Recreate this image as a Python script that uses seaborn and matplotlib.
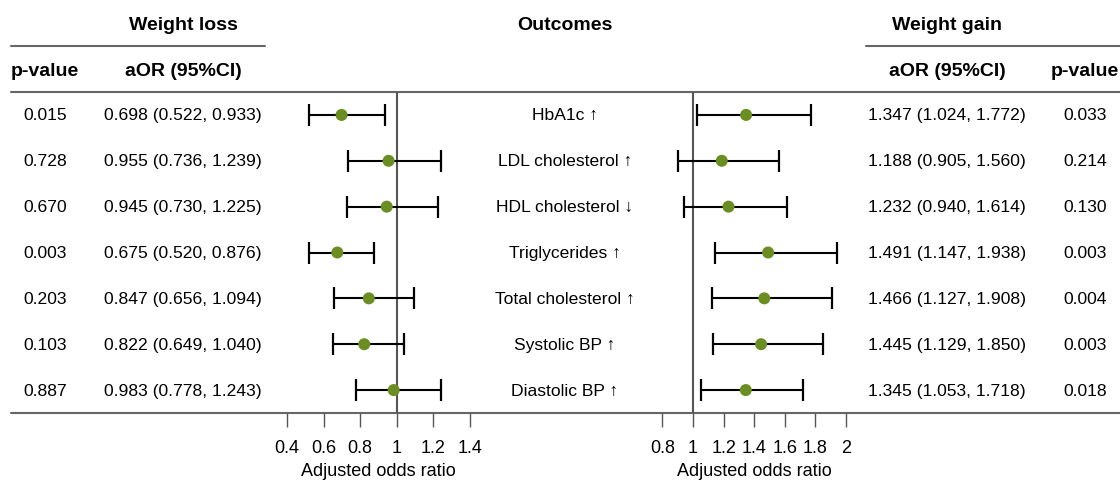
import matplotlib
matplotlib.use("Agg")
import matplotlib.pyplot as plt
import matplotlib.transforms as mtrans
import seaborn as sns
import pandas as pd

sns.set_theme(style="white")
plt.rcParams['font.family'] = ['Liberation Sans', 'DejaVu Sans']
plt.rcParams['text.color'] = 'black'
plt.rcParams['axes.labelcolor'] = 'black'

# ---- data ----
outcomes = ["HbA1c \u2191", "LDL cholesterol \u2191", "HDL cholesterol \u2193",
            "Triglycerides \u2191", "Total cholesterol \u2191", "Systolic BP \u2191",
            "Diastolic BP \u2191"]
loss_or = [0.698, 0.955, 0.945, 0.675, 0.847, 0.822, 0.983]
loss_lo = [0.522, 0.736, 0.730, 0.520, 0.656, 0.649, 0.778]
loss_hi = [0.933, 1.239, 1.225, 0.876, 1.094, 1.040, 1.243]
loss_p = ["0.015", "0.728", "0.670", "0.003", "0.203", "0.103", "0.887"]
gain_or = [1.347, 1.188, 1.232, 1.491, 1.466, 1.445, 1.345]
gain_lo = [1.024, 0.905, 0.940, 1.147, 1.127, 1.129, 1.053]
gain_hi = [1.772, 1.560, 1.614, 1.938, 1.908, 1.850, 1.718]
gain_p = ["0.033", "0.214", "0.130", "0.003", "0.004", "0.003", "0.018"]
loss_ticks = [0.4, 0.6, 0.8, 1, 1.2, 1.4]
gain_ticks = [0.8, 1, 1.2, 1.4, 1.6, 1.8, 2]

W, H = 1120, 481
fig = plt.figure(figsize=(W / 100, H / 100), dpi=100)
bg = fig.add_axes([0, 0, 1, 1])
bg.set_xlim(0, W)
bg.set_ylim(H, 0)
bg.axis("off")

RULE = "#666666"
PT = "#6B8E23"
top_y, bot_y = 93, 414


def px_axes(x0, x1):
    return fig.add_axes([x0 / W, (H - bot_y) / H, (x1 - x0) / W, (bot_y - top_y) / H])


def forest(ax, orv, lo, hi, xlim, ticks):
    df = pd.DataFrame({"or": orv, "lo": lo, "hi": hi, "row": range(len(orv))})
    ax.errorbar(df["or"], df["row"], xerr=[df["or"] - df["lo"], df["hi"] - df["or"]],
                fmt="none", ecolor="black", elinewidth=1.5, capsize=8, capthick=1.6,
                zorder=2)
    sns.scatterplot(data=df, x="or", y="row", ax=ax, color=PT, s=75,
                    edgecolor="none", zorder=3, legend=False)
    ax.axvline(1, color="#555555", lw=1.5, zorder=1)
    ax.set_xlim(*xlim)
    ax.set_ylim(len(orv) - 0.5, -0.5)
    ax.set_facecolor("none")
    for s in ax.spines.values():
        s.set_visible(False)
    ax.set_yticks([])
    ax.set_xticks(ticks)
    ax.set_xticklabels([f"{t:g}" for t in ticks])
    ax.tick_params(axis="x", direction="out", length=10, width=1, color="#555555",
                   labelsize=13, pad=9, bottom=True, labelcolor="black")
    ax.set_xlabel("Adjusted odds ratio", fontsize=13, labelpad=4, color="black")
    ax.set_ylabel("")


axL = px_axes(287, 470)
forest(axL, loss_or, loss_lo, loss_hi, (0.4, 1.4), loss_ticks)
axR = px_axes(662.4, 846)
forest(axR, gain_or, gain_lo, gain_hi, (0.8, 2.0), gain_ticks)

# rules
bg.plot([11, 265], [47, 47], color=RULE, lw=1.5)
bg.plot([866, W], [47, 47], color=RULE, lw=1.5)
bg.plot([11, W], [top_y, top_y], color=RULE, lw=1.5)
bg.plot([11, W], [bot_y, bot_y], color=RULE, lw=1.5)

# headers
hk = dict(fontsize=14, fontweight="bold", ha="center", va="center", color="black")
bg.text(183, 25, "Weight loss", **hk)
bg.text(565, 25, "Outcomes", **hk)
bg.text(947, 25, "Weight gain", **hk)
bg.text(45, 71, "p-value", **hk)
bg.text(183, 71, "aOR (95%CI)", **hk)
bg.text(947, 71, "aOR (95%CI)", **hk)
bg.text(1085, 71, "p-value", **hk)

# table text
tr = mtrans.blended_transform_factory(bg.transData, axL.transData)
tk = dict(fontsize=12.6, ha="center", va="center", transform=tr, color="black")
for i in range(len(outcomes)):
    bg.text(45, i, loss_p[i], **tk)
    bg.text(183, i, f"{loss_or[i]:.3f} ({loss_lo[i]:.3f}, {loss_hi[i]:.3f})", **tk)
    bg.text(565, i, outcomes[i], **tk)
    bg.text(947, i, f"{gain_or[i]:.3f} ({gain_lo[i]:.3f}, {gain_hi[i]:.3f})", **tk)
    bg.text(1085, i, gain_p[i], **tk)

fig.savefig("out.png", dpi=100)
